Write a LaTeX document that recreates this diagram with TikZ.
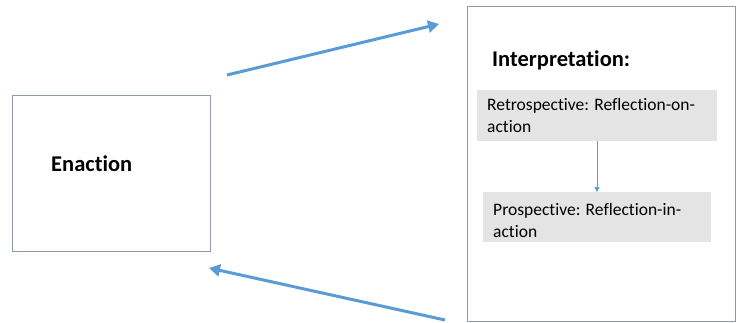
\documentclass[tikz,border=0pt]{standalone}
\usepackage{fontspec}
\setmainfont[Ligatures=NoCommon]{Carlito}
\usetikzlibrary{arrows.meta}
\definecolor{frameline}{HTML}{8A9BAE}
\definecolor{flowblue}{HTML}{5B9BD5}
\definecolor{panelgray}{HTML}{E4E4E4}
\tikzset{
  x=1pt, y=-1pt,
  framebox/.style={draw=frameline, line width=0.8pt, fill=white},
  bigflow/.style={draw=flowblue, line width=3pt, -{Triangle[length=11pt,width=12pt]}},
  smallflow/.style={draw=flowblue, line width=0.7pt, -{Triangle[length=5pt,width=5pt]}},
  title/.style={font=\bfseries\fontsize{22.5}{27}\selectfont, anchor=base west, inner sep=0pt},
  % multi-line body text: the base anchor sits on the last line
  body/.style={font=\fontsize{17.5}{21.5}\selectfont, align=left, anchor=base west, inner sep=0pt}
}
\begin{document}
\begin{tikzpicture}
\useasboundingbox (0,0) rectangle (737,322);
% left box
\draw[framebox] (12,95) rectangle (210,251);
\node[title] (enaction) at (51,171) {Enaction};
% right box
\draw[framebox] (467,6) rectangle (735,321);
\node[title] (interp) at (492,66) {Interpretation:};
% stage panels
\fill[panelgray] (477,90) rectangle (717,141);
\node[body] (retro) at (487,132) {Retrospective: Reflection-on-\\action};
\fill[panelgray] (483,192) rectangle (711,242);
\node[body] (pros) at (493,237) {Prospective: Reflection-in-\\action};
\coordinate (rtop) at (597,141);
\coordinate (pbot) at (597,192);
\draw[smallflow] (rtop) -- (pbot);
% feedback arrows
\coordinate (a1s) at (227,75);
\coordinate (a1e) at (439,24);
\coordinate (a2s) at (445,320);
\coordinate (a2e) at (209,268);
\draw[bigflow] (a1s) -- (a1e);
\draw[bigflow] (a2s) -- (a2e);
\end{tikzpicture}
\end{document}
